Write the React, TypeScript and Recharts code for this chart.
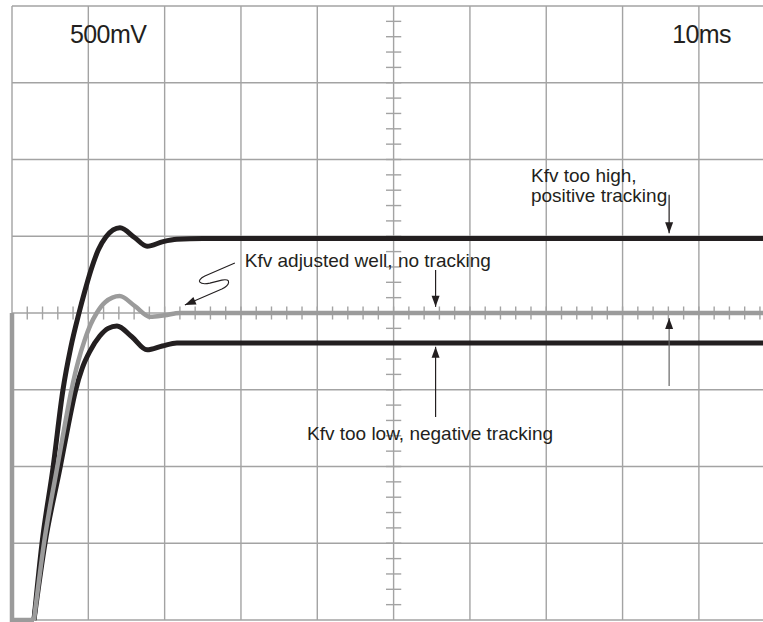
import React from "react";
import { LineChart, Line, XAxis, YAxis, ReferenceLine, ReferenceDot } from "recharts";

// scope screen: 10 x 8 divisions, right edge cropped
const X_MAX = 9.84;
const MAJOR_T = [0, 1, 2, 3, 4, 5, 6, 7, 8, 9];
const MAJOR_V = [-4, -3, -2, -1, 0, 1, 2, 3, 4];
const MINOR_STEP = 0.2;

// traces, [time div, volts div]
const highTrace = [
  [0.288, -4], [0.393, -3.0], [0.537, -2.02], [0.668, -1.0], [0.77, -0.45],
  [0.878, 0], [0.95, 0.27], [1.035, 0.56], [1.13, 0.82], [1.23, 0.99],
  [1.415, 1.11], [1.61, 0.98], [1.77, 0.87], [1.98, 0.93], [2.16, 0.96],
  [2.5, 0.97], [X_MAX, 0.97],
];
const wellTrace = [
  [0.288, -4], [0.419, -3.0], [0.59, -2.02], [0.69, -1.47], [0.78, -1.0],
  [0.87, -0.62], [0.95, -0.36], [1.03, -0.15], [1.11, 0], [1.22, 0.14],
  [1.41, 0.22], [1.61, 0.09], [1.81, -0.05], [2.0, -0.03], [2.2, 0], [X_MAX, 0],
];
const lowTrace = [
  [0.288, -4], [0.432, -3.0], [0.629, -2.02], [0.74, -1.45], [0.83, -1.02],
  [0.92, -0.72], [1.02, -0.5], [1.15, -0.3], [1.26, -0.2], [1.375, -0.17],
  [1.57, -0.31], [1.77, -0.48], [1.97, -0.43], [2.16, -0.39], [2.5, -0.39],
  [X_MAX, -0.39],
];
const stepTrace = [[0, 0], [0, -4], [0.288, -4]];

const INK = "#231f20";
const GRID = "#a3a3a3";
const TRACE_GRAY = "#9b9b9b";
const FONT = "Arial, 'Liberation Sans', Helvetica, sans-serif";

const toPts = (arr: number[][]) => arr.map(([t, v]) => ({ t, v }));

const minorT: number[] = [];
for (let t = MINOR_STEP; t < X_MAX; t += MINOR_STEP) minorT.push(+t.toFixed(2));
const minorV: number[] = [];
for (let v = -4 + MINOR_STEP; v < 4; v += MINOR_STEP) minorV.push(+v.toFixed(2));

function head(x1: number, y1: number, x2: number, y2: number, len = 11, half = 4) {
  const dx = x2 - x1;
  const dy = y2 - y1;
  const d = Math.hypot(dx, dy) || 1;
  const ux = dx / d;
  const uy = dy / d;
  const bx = x2 - ux * len;
  const by = y2 - uy * len;
  return `${x2},${y2} ${bx - uy * half},${by + ux * half} ${bx + uy * half},${by - ux * half}`;
}

const arrowShape = (color: string) => (p: any) => (
  <g>
    <line x1={p.x1} y1={p.y1} x2={p.x2} y2={p.y2} stroke={color} strokeWidth={1.2} />
    <polygon points={head(p.x1, p.y1, p.x2, p.y2)} fill={INK} />
  </g>
);

const textShape = (lines: string[], size: number, spacing = 0) => (p: any) => (
  <text x={p.cx} y={p.cy} fontFamily={FONT} fontSize={size} fill={INK} letterSpacing={spacing}>
    {lines.map((s, i) => (
      <tspan key={i} x={p.cx} dy={i === 0 ? 0 : size + 1}>
        {s}
      </tspan>
    ))}
  </text>
);

const squiggleShape = (p: any) => {
  const x = p.cx;
  const y = p.cy;
  const d = `M${x},${y} L${x - 30},${y + 13} C${x - 40},${y + 18} ${x - 35},${y + 22} ${x - 25},${y + 20} L${x - 13},${y + 17} C${x - 3},${y + 15} ${x - 5},${y + 22} ${x - 13},${y + 26} L${x - 50},${y + 42}`;
  return (
    <g>
      <path d={d} fill="none" stroke={INK} strokeWidth={1.1} />
      <polygon points={head(x - 13, y + 26, x - 50, y + 42)} fill={INK} />
    </g>
  );
};

export default function App() {
  return (
    <div style={{ position: "absolute", left: 0, top: 0, background: "#fff" }}>
      <LineChart width={763} height={622} margin={{ top: 6, right: 0, bottom: 2, left: 12 }}>
        <XAxis type="number" dataKey="t" domain={[0, X_MAX]} hide />
        <YAxis type="number" dataKey="v" domain={[-4, 4]} hide />

        {MAJOR_T.map((t) => (
          <ReferenceLine key={`gx${t}`} x={t} stroke={GRID} strokeWidth={1.4} />
        ))}
        {MAJOR_V.map((v) => (
          <ReferenceLine key={`gy${v}`} y={v} stroke={GRID} strokeWidth={1.4} />
        ))}
        {minorT.map((t) => (
          <ReferenceLine
            key={`tx${t}`}
            segment={[{ x: t, y: -0.085 }, { x: t, y: 0.085 }]}
            stroke={GRID}
            strokeWidth={1.4}
          />
        ))}
        {minorV.map((v) => (
          <ReferenceLine
            key={`ty${v}`}
            segment={[{ x: 4.9, y: v }, { x: 5.1, y: v }]}
            stroke={GRID}
            strokeWidth={1.4}
          />
        ))}

        <Line data={toPts(highTrace)} dataKey="v" type="monotone" stroke={INK} strokeWidth={5} dot={false} isAnimationActive={false} />
        <Line data={toPts(lowTrace)} dataKey="v" type="monotone" stroke={INK} strokeWidth={5} dot={false} isAnimationActive={false} />
        <Line data={toPts(stepTrace)} dataKey="v" type="linear" stroke={TRACE_GRAY} strokeWidth={4.5} strokeLinejoin="miter" dot={false} isAnimationActive={false} />
        <Line data={toPts(wellTrace)} dataKey="v" type="monotone" stroke={TRACE_GRAY} strokeWidth={4.5} dot={false} isAnimationActive={false} />

        <ReferenceDot x={0.76} y={3.52} shape={textShape(["500mV"], 25, -0.6)} />
        <ReferenceDot x={8.65} y={3.52} shape={textShape(["10ms"], 25, -0.6)} />
        <ReferenceDot x={6.8} y={1.71} shape={textShape(["Kfv too high,", "positive tracking"], 19)} />
        <ReferenceDot x={3.05} y={0.6} shape={textShape(["Kfv adjusted well, no tracking"], 19)} />
        <ReferenceDot x={3.865} y={-1.65} shape={textShape(["Kfv too low, negative tracking"], 19)} />

        <ReferenceLine segment={[{ x: 8.61, y: 1.54 }, { x: 8.61, y: 1.04 }]} shape={arrowShape(INK)} />
        <ReferenceLine segment={[{ x: 5.55, y: 0.56 }, { x: 5.55, y: 0.08 }]} shape={arrowShape(INK)} />
        <ReferenceLine segment={[{ x: 5.55, y: -1.355 }, { x: 5.55, y: -0.44 }]} shape={arrowShape(INK)} />
        <ReferenceLine segment={[{ x: 8.61, y: -0.95 }, { x: 8.61, y: -0.065 }]} shape={arrowShape("#666")} />
        <ReferenceDot x={2.92} y={0.65} shape={squiggleShape} />
      </LineChart>
    </div>
  );
}
